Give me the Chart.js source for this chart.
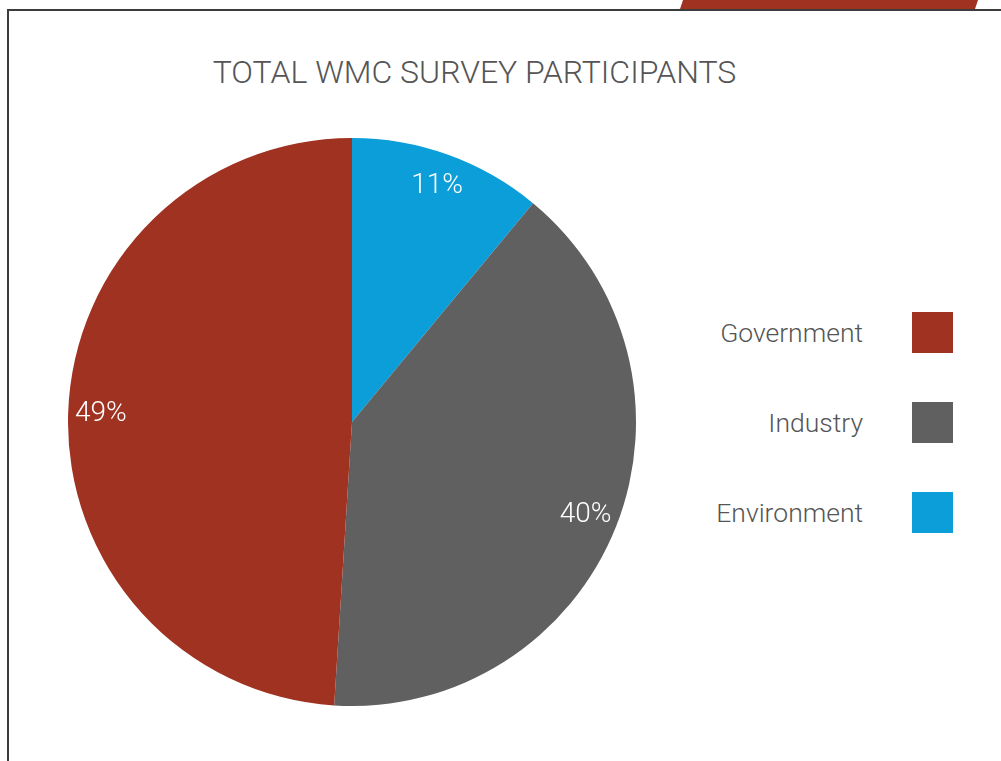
<!DOCTYPE html>
<html>
<head>
<meta charset="utf-8">
<title>Total WMC survey participants</title>
<script src="https://cdn.jsdelivr.net/npm/chart.js@4"></script>
<style>
  html, body { margin: 0; padding: 0; background: #fff; }
  body { width: 1001px; height: 761px; position: relative; overflow: hidden;
         font-family: Roboto, "Liberation Sans", Arial, sans-serif; }
  .frame { position: absolute; left: 7px; top: 9px; right: -10px; bottom: -10px;
           border-left: 2px solid #3c3c3c; border-top: 2px solid #3c3c3c; }
  .tab { position: absolute; left: 680px; top: 0; width: 298px; height: 9px; background: #a03221;
         clip-path: polygon(3px 0, 100% 0, calc(100% - 3px) 100%, 0 100%); }
  .title { position: absolute; left: 0; width: 949px; top: 55px; margin: 0; text-align: center;
           font-size: 32px; font-weight: 300; line-height: 34px; color: #555; }
  .pie { position: absolute; left: 68px; top: 138px; width: 568px; height: 568px; }
  #legend { position: absolute; left: 680px; top: 312px; width: 273px; margin: 0; padding: 0; list-style: none; }
  #legend li { display: flex; justify-content: flex-end; align-items: center; height: 41px; margin-bottom: 49px; }
  #legend .txt { font-size: 26.5px; font-weight: 300; color: #555; margin-right: 49px; }
  #legend .box { width: 41px; height: 41px; }
</style>
</head>
<body>
<div class="tab"></div>
<div class="frame"></div>
<h1 class="title">TOTAL WMC SURVEY PARTICIPANTS</h1>
<div class="pie"><canvas id="mychart" width="568" height="568"></canvas></div>
<ul id="legend"></ul>

<script>
// participants by sector, clockwise from 12 o'clock
const sectors = ['Environment', 'Industry', 'Government'];
const shares = [11, 40, 49];
const sectorColors = ['#0c9ed9', '#606060', '#a03221'];

// percent labels sitting inside each slice, near the rim
const sliceLabels = {
    id: 'sliceLabels',
    afterDatasetsDraw(chart) {
        const ctx = chart.ctx;
        const meta = chart.getDatasetMeta(0);
        ctx.save();
        ctx.fillStyle = '#fff';
        ctx.font = '300 28px Roboto, "Liberation Sans", Arial, sans-serif';
        ctx.textAlign = 'center';
        ctx.textBaseline = 'middle';
        meta.data.forEach((arc, i) => {
            const p = arc.getProps(['x', 'y', 'startAngle', 'endAngle', 'outerRadius'], true);
            const mid = (p.startAngle + p.endAngle) / 2;
            const r = p.outerRadius * 0.885;
            ctx.fillText(chart.data.datasets[0].data[i] + '%', p.x + Math.cos(mid) * r, p.y + Math.sin(mid) * r);
        });
        ctx.restore();
    }
};

// legend list on the right, last sector first
const htmlLegend = {
    id: 'htmlLegend',
    afterUpdate(chart) {
        const ul = document.getElementById('legend');
        ul.innerHTML = '';
        const ds = chart.data.datasets[0];
        for (let i = chart.data.labels.length - 1; i >= 0; i--) {
            const li = document.createElement('li');
            const txt = document.createElement('span');
            txt.className = 'txt';
            txt.textContent = chart.data.labels[i];
            const box = document.createElement('span');
            box.className = 'box';
            box.style.background = ds.backgroundColor[i];
            li.appendChild(txt);
            li.appendChild(box);
            ul.appendChild(li);
        }
    }
};

const ctx = document.getElementById('mychart');

const mychart = new Chart(ctx, {
    type: 'pie',
    data: {
        labels: sectors,
        datasets: [{
            data: shares,
            backgroundColor: sectorColors,
            borderWidth: 0
        }]
    },
    options: {
        responsive: false,
        animation: false,
        events: [],
        plugins: {
            legend: { display: false },
            tooltip: { enabled: false }
        }
    },
    plugins: [sliceLabels, htmlLegend]
});
</script>
</body>
</html>
